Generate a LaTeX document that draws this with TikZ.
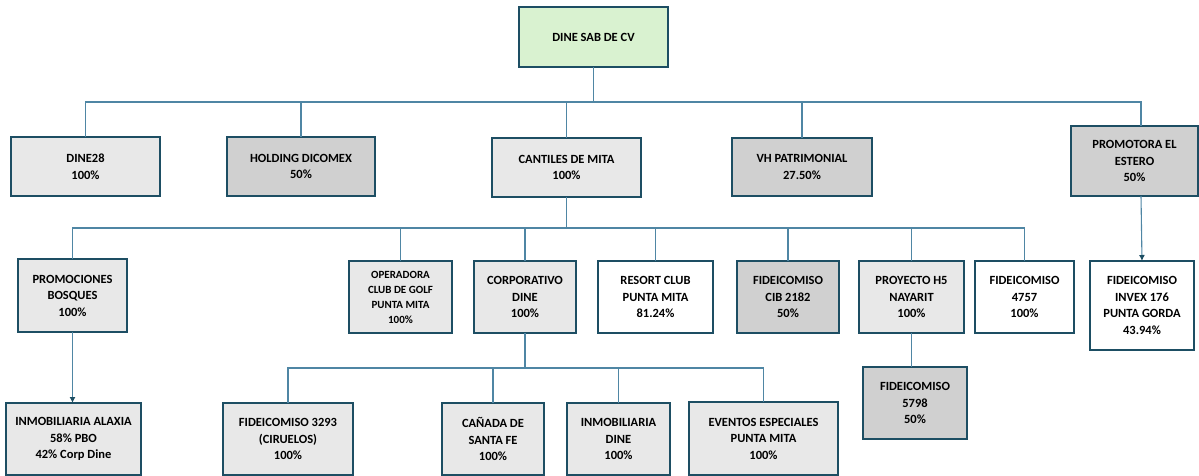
\documentclass[tikz,border=0pt]{standalone}
\usepackage{fontspec}
\setmainfont{Carlito}
\usetikzlibrary{arrows.meta}
\definecolor{boxline}{HTML}{1D4E63}
\definecolor{linkline}{HTML}{4F86A4}
\definecolor{litegray}{HTML}{E8E8E8}
\definecolor{darkgray}{HTML}{D0D0D0}
\definecolor{topgreen}{HTML}{D9F2D0}
\begin{document}
\begin{tikzpicture}[x=1pt,y=-1pt,inner sep=0pt,outer sep=0pt,
unit/.style={draw=boxline,rectangle,line width=1.6pt,align=center,font=\bfseries\fontsize{12.5}{16.5}\selectfont},
owned/.style={unit,fill=litegray},
shared/.style={unit,fill=darkgray},
plain/.style={unit,fill=white},
link/.style={draw=linkline,line width=1.1pt},
>={Latex[length=6pt,width=6pt,color=boxline]}]

\useasboundingbox (0,0) rectangle (1199,476);

% holding
\draw (593.5,37) node[unit,fill=topgreen,minimum width=149,minimum height=60] (top) {DINE SAB DE CV};

% first level
\draw (85.5,166.5) node[owned,minimum width=149,minimum height=59] (dine28) {DINE28\\100\%};
\draw (301,166.5) node[shared,minimum width=148,minimum height=59] (dicomex) {HOLDING DICOMEX\\50\%};
\draw (566.5,167.5) node[owned,minimum width=149,minimum height=59] (cantiles) {CANTILES DE MITA\\100\%};
\draw (802,167) node[shared,minimum width=140,minimum height=58] (vh) {VH PATRIMONIAL\\27.50\%};
\draw (1134.5,161) node[shared,minimum width=127,minimum height=70] (estero) {PROMOTORA EL\\ESTERO\\50\%};

% second level
\draw (72.5,295.5) node[owned,minimum width=109,minimum height=73] (bosques) {PROMOCIONES\\BOSQUES\\100\%};
\draw (400.5,297) node[owned,minimum width=103,minimum height=72,font=\bfseries\fontsize{11}{15}\selectfont] (golf) {OPERADORA\\CLUB DE GOLF\\PUNTA MITA\\100\%};
\draw (525,297) node[owned,minimum width=102,minimum height=72] (corpdine) {CORPORATIVO\\DINE\\100\%};
\draw (655.5,297) node[plain,minimum width=115,minimum height=72] (resort) {RESORT CLUB\\PUNTA MITA\\81.24\%};
\draw (788,297) node[shared,minimum width=102,minimum height=72] (cib) {FIDEICOMISO\\CIB 2182\\50\%};
\draw (911.5,297) node[owned,minimum width=105,minimum height=72] (h5) {PROYECTO H5\\NAYARIT\\100\%};
\draw (1024.5,297) node[plain,minimum width=99,minimum height=72] (fid4757) {FIDEICOMISO\\4757\\100\%};
\draw (1142,305.5) node[plain,minimum width=104,minimum height=89] (invex) {FIDEICOMISO\\INVEX 176\\PUNTA GORDA\\43.94\%};

% third level
\draw (73.5,439) node[owned,minimum width=135,minimum height=72] (alaxia) {INMOBILIARIA ALAXIA\\58\% PBO\\42\% Corp Dine};
\draw (288,439) node[owned,minimum width=130,minimum height=72] (fid3293) {FIDEICOMISO 3293\\(CIRUELOS)\\100\%};
\draw (493,439) node[owned,minimum width=102,minimum height=72] (canada) {CAÑADA DE\\SANTA FE\\100\%};
\draw (618.5,439) node[owned,minimum width=103,minimum height=72] (inmodine) {INMOBILIARIA\\DINE\\100\%};
\draw (763.5,438.5) node[owned,minimum width=149,minimum height=73] (eventos) {EVENTOS ESPECIALES\\PUNTA MITA\\100\%};
\draw (915,403) node[shared,minimum width=104,minimum height=72] (fid5798) {FIDEICOMISO\\5798\\50\%};

% connectors
\foreach \c in {dine28,dicomex,cantiles,vh}
  \draw[link] (top.south) -- ++(0,35) -| (\c.north);
\draw[link] (top.south) -- ++(0,35) -| ([xshift=6.5]estero.north);
\foreach \c in {bosques,golf,corpdine,resort,cib,h5,fid4757}
  \draw[link] (cantiles.south) -- ++(0,31) -| (\c.north);
\foreach \c in {fid3293,canada,inmodine,eventos}
  \draw[link] (corpdine.south) -- ++(0,35) -| (\c.north);
\draw[link] (h5.south) -- (h5.south |- fid5798.north);
\draw[link,->] (bosques.south) -- (bosques.south |- alaxia.north);
\draw[link,->] ([xshift=6.5]estero.south) -- (invex.north);
\end{tikzpicture}
\end{document}
